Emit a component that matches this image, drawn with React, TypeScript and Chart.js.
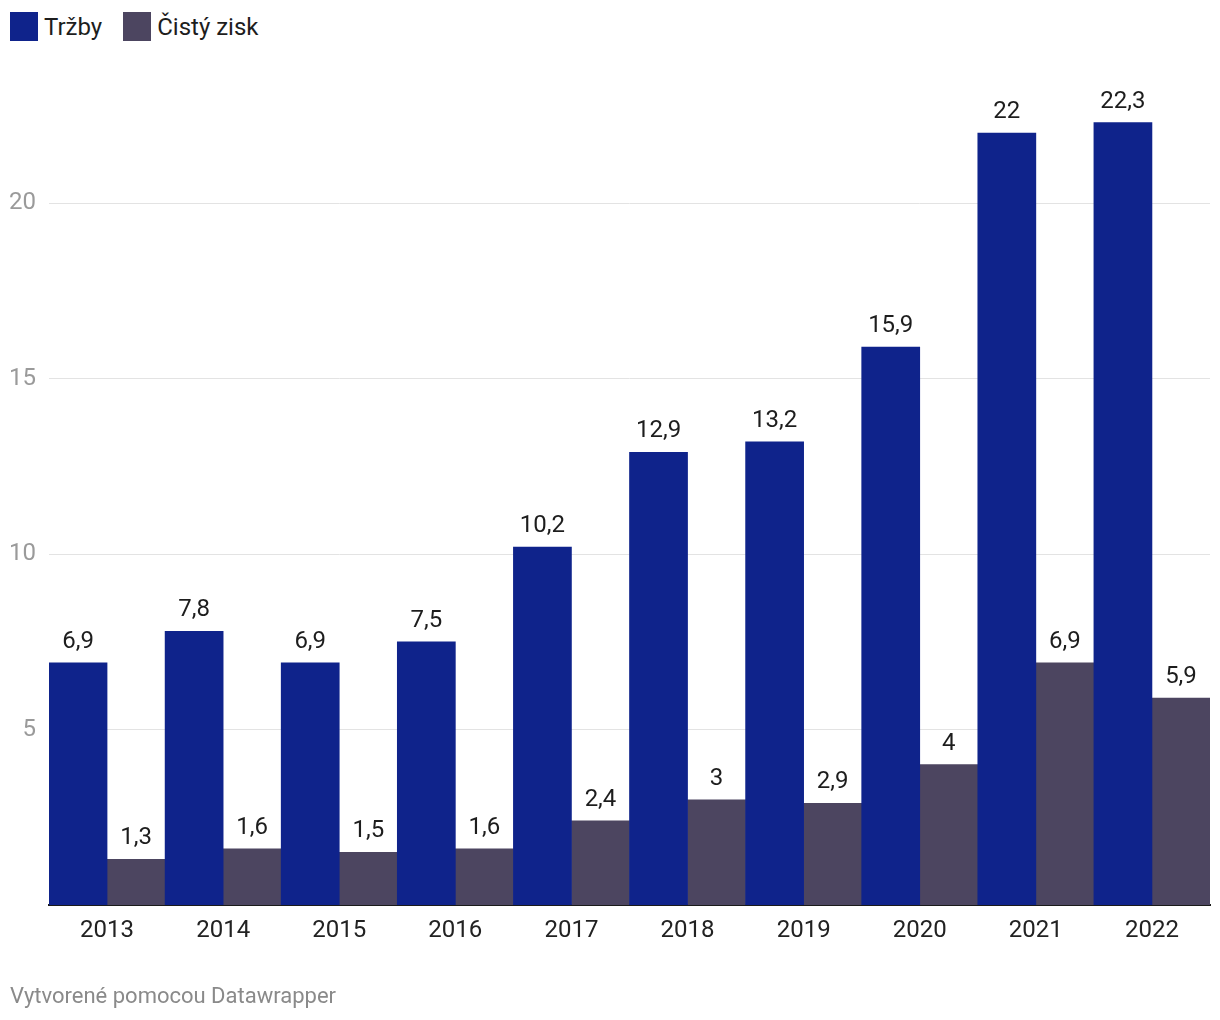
import React, { useEffect, useRef } from "react";
import { Chart, registerables } from "chart.js";

Chart.register(...registerables);

const years = ["2013", "2014", "2015", "2016", "2017", "2018", "2019", "2020", "2021", "2022"];
const trzby = [6.9, 7.8, 6.9, 7.5, 10.2, 12.9, 13.2, 15.9, 22, 22.3];
const cistyZisk = [1.3, 1.6, 1.5, 1.6, 2.4, 3, 2.9, 4, 6.9, 5.9];
const yTicks = [5, 10, 15, 20];
const seriesNames = ["Tržby", "Čistý zisk"];
const colors = ["#0f238b", "#4c4560"];

const FONT = "Roboto, 'Noto Sans', sans-serif";

const labelPlugin = {
  id: "valueLabels",
  afterDatasetsDraw(chart: any) {
    const ctx = chart.ctx;
    ctx.save();
    ctx.font = `24px ${FONT}`;
    ctx.fillStyle = "#1d1d1d";
    ctx.textAlign = "center";
    ctx.textBaseline = "alphabetic";
    chart.data.datasets.forEach((ds: any, di: number) => {
      const meta = chart.getDatasetMeta(di);
      meta.data.forEach((bar: any, i: number) => {
        const v = ds.data[i];
        const txt = String(v).replace(".", ",");
        ctx.fillText(txt, bar.x, bar.y - 15);
      });
    });
    ctx.restore();
  },
};

export default function App() {
  const ref = useRef<HTMLCanvasElement>(null);
  useEffect(() => {
    if (!ref.current) return;
    const chart = new Chart(ref.current, {
      type: "bar",
      data: {
        labels: years,
        datasets: [
          { label: seriesNames[0], data: trzby, backgroundColor: colors[0] },
          { label: seriesNames[1], data: cistyZisk, backgroundColor: colors[1] },
        ],
      },
      options: {
        animation: false,
        responsive: false,
        maintainAspectRatio: false,
        layout: { padding: { left: 0, right: 10, top: 63, bottom: 0 } },
        datasets: { bar: { categoryPercentage: 1, barPercentage: 1 } },
        plugins: { legend: { display: false }, tooltip: { enabled: false } },
        scales: {
          x: {
            grid: { display: false, drawTicks: false },
            border: { display: true, color: "#1a1a1a", width: 2 },
            ticks: { color: "#222", font: { family: FONT, size: 24 }, padding: 12 },
            afterFit: (s: any) => { s.height = 115; },
          },
          y: {
            min: 0,
            max: 24,
            grid: { color: "#e3e3e3", lineWidth: 1, drawTicks: false },
            border: { display: false },
            ticks: { color: "#9a9a9a", font: { family: FONT, size: 24 }, padding: 13 },
            afterBuildTicks: (s: any) => { s.ticks = yTicks.map((v) => ({ value: v })); },
            afterFit: (s: any) => { s.width = 49; },
          },
        },
      },
      plugins: [labelPlugin],
    });
    return () => chart.destroy();
  }, []);

  return (
    <div style={{ position: "absolute", left: 0, top: 0, width: 1220, height: 1020, background: "#fff", fontFamily: FONT }}>
      <div style={{ position: "absolute", left: 10, top: 12, display: "flex", alignItems: "center", fontSize: 24, color: "#1d1d1d" }}>
        <span style={{ display: "inline-block", width: 28, height: 29, background: colors[0], marginRight: 6 }} />
        <span style={{ marginRight: 21 }}>{seriesNames[0]}</span>
        <span style={{ display: "inline-block", width: 28, height: 29, background: colors[1], marginRight: 6 }} />
        <span>{seriesNames[1]}</span>
      </div>
      <canvas ref={ref} width={1220} height={1020} style={{ position: "absolute", left: 0, top: 0 }} />
      <div style={{ position: "absolute", left: 10, top: 983, fontSize: 22, color: "#8a8a8a" }}>
        Vytvorené pomocou Datawrapper
      </div>
    </div>
  );
}
